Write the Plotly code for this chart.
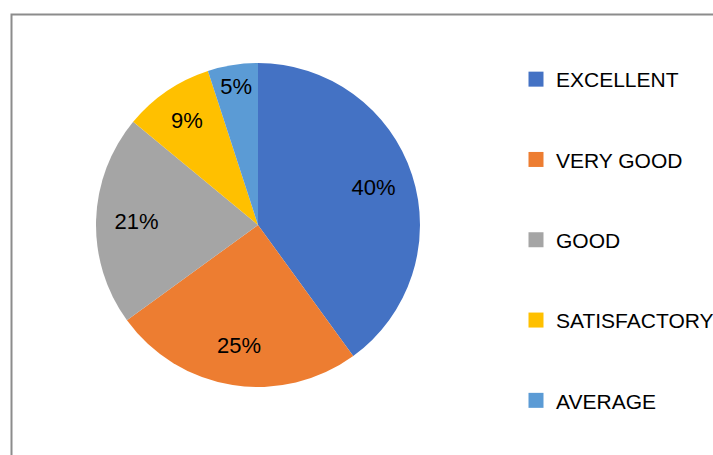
import plotly.graph_objects as go

categories = ["EXCELLENT", "VERY GOOD", "GOOD", "SATISFACTORY", "AVERAGE"]
values = [40, 25, 21, 9, 5]
colors = ["#4472C4", "#ED7D31", "#A5A5A5", "#FFC000", "#5B9BD5"]

W, H = 713, 455
cx, cy, r = 258, 225, 162
FONT = "Liberation Sans"
dom = dict(x=[(cx - r) / W, (cx + r) / W], y=[1 - (cy + r) / H, 1 - (cy - r) / H])

fig = go.Figure()
fig.add_trace(go.Pie(
    labels=categories, values=values, sort=False, direction="clockwise",
    rotation=0, marker=dict(colors=colors, line=dict(width=0)),
    textinfo="none", showlegend=False, hoverinfo="label+percent", domain=dom,
))
fig.add_trace(go.Pie(
    labels=categories, values=values, sort=False, direction="clockwise",
    rotation=0, hole=0.5,
    marker=dict(colors=["rgba(0,0,0,0)"] * len(values), line=dict(width=0)),
    texttemplate="%{percent:.0%}", textposition="inside",
    insidetextorientation="horizontal",
    textfont=dict(family=FONT, size=22, color="black"),
    showlegend=False, hoverinfo="skip", domain=dom,
))
for c, col in zip(categories, colors):
    fig.add_trace(go.Scatter(
        x=[None], y=[None], mode="markers", name=c, legendgroup=c,
        marker=dict(symbol="square", size=15, color=col),
    ))

fig.update_layout(
    width=W, height=H, margin=dict(l=0, r=0, t=0, b=0, autoexpand=False),
    paper_bgcolor="white", plot_bgcolor="white",
    xaxis=dict(visible=False), yaxis=dict(visible=False),
    legend=dict(x=516 / W, y=1 - 59 / H, xanchor="left", yanchor="top",
                font=dict(family=FONT, size=21, color="black"),
                tracegroupgap=50, bgcolor="rgba(0,0,0,0)"),
    shapes=[dict(type="rect", xref="paper", yref="paper",
                 x0=11.5 / W, x1=1.2, y0=-0.2, y1=1 - 14.5 / H,
                 line=dict(color="#8C8C8C", width=2), layer="below")],
)
fig.write_html("out.html", config={"displayModeBar": False},
               post_script="document.body.style.margin='0px';document.body.style.overflow='hidden';")
